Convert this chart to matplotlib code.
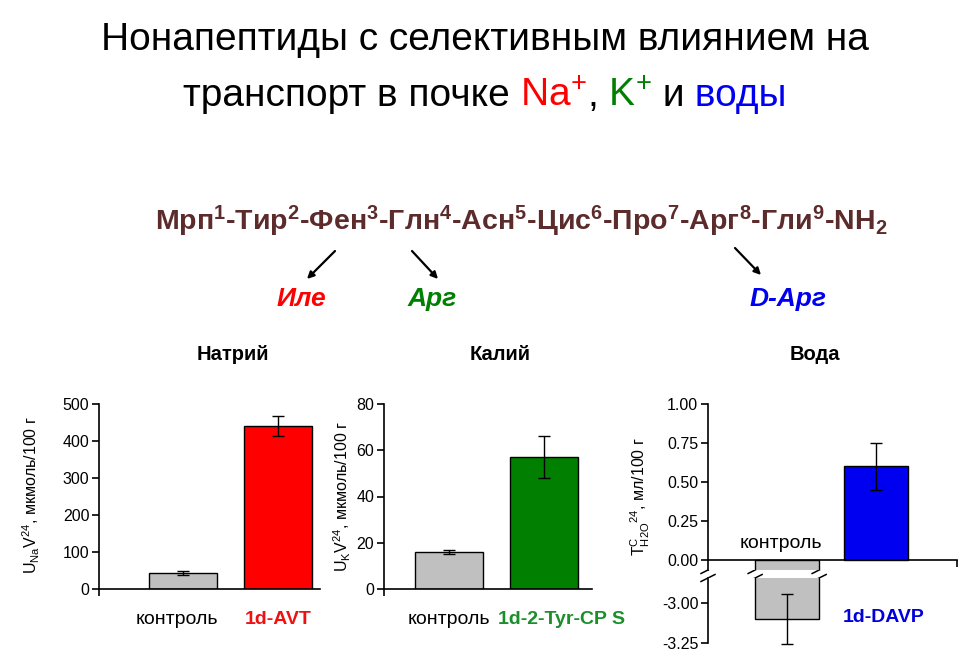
import matplotlib
matplotlib.use("Agg")
import matplotlib.pyplot as plt
from matplotlib.lines import Line2D
import numpy as np

plt.rcParams['font.family'] = ['Liberation Sans', 'DejaVu Sans']
plt.rcParams['mathtext.fontset'] = 'custom'
plt.rcParams['mathtext.rm'] = 'Liberation Sans'
plt.rcParams['mathtext.it'] = 'Liberation Sans:italic'
plt.rcParams['mathtext.bf'] = 'Liberation Sans:bold'

# ---- data ----
na_labels = ['контроль', '1d-AVT']
na_mean = [44, 440]
na_err = [5, 27]
na_ticks = [0, 100, 200, 300, 400, 500]

k_labels = ['контроль', '1d-2-Tyr-CP S']
k_mean = [16, 57]
k_err = [1, 9]
k_ticks = [0, 20, 40, 60, 80]

w_labels = ['контроль', '1d-DAVP']
w_mean = [-3.10, 0.60]
w_err = [0.155, 0.15]
w_ticks_top = [0.0, 0.25, 0.5, 0.75, 1.0]
w_ticks_low = [-3.25, -3.0]

residues = ['Мрп', 'Тир', 'Фен', 'Глн', 'Асн', 'Цис', 'Про', 'Арг', 'Гли']
substitutions = ['Иле', 'Арг', 'D-Арг']

GRAY = '#c0c0c0'
RED = '#ff0000'
GREEN = '#007f00'
BLUE = '#0000f0'
BROWN = '#5c2b2b'

W, H = 970, 661
fig = plt.figure(figsize=(W / 100, H / 100), dpi=100)


def box(x0, y0, x1, y1):
    # pixel box, origin top-left
    return [x0 / W, 1 - y1 / H, (x1 - x0) / W, (y1 - y0) / H]


# background axes in pixel coordinates for free text
bg = fig.add_axes([0, 0, 1, 1], zorder=-1)
bg.set_xlim(0, W)
bg.set_ylim(H, 0)
bg.axis('off')

# heading
bg.text(W / 2, 40, 'Нонапептиды с селективным влиянием на', fontsize=28,
        ha='center', va='center')
pieces = [('транспорт в почке', 'black'), (' Na$^{+}$', RED), (',', 'black'),
          (' K$^{+}$', GREEN), (' и', 'black'), (' воды', BLUE)]
renderer = fig.canvas.get_renderer()
texts = []
for s, c in pieces:
    texts.append(bg.text(0, 96, s, fontsize=28, color=c, ha='left', va='center'))
widths = [t.get_window_extent(renderer).width for t in texts]
x = W / 2 - sum(widths) / 2
for t, w in zip(texts, widths):
    t.set_x(x)
    x += w

# peptide sequence
seq = '-'.join(r'%s$^{\mathbf{%d}}$' % (r, i + 1) for i, r in enumerate(residues))
seq += r'-NH$_{\mathbf{2}}$'
bg.text(521, 221, seq, fontsize=20.5, fontweight='bold', color=BROWN,
        ha='center', va='center')

# arrows and substitutions
arrows = [((335, 251), (307, 279)), ((412, 251), (438, 279)), ((735, 248), (761, 275))]
for (x0, y0), (x1, y1) in arrows:
    bg.annotate('', xy=(x1, y1), xytext=(x0, y0),
                arrowprops=dict(arrowstyle='-|>', lw=1.6, color='black',
                                mutation_scale=10, shrinkA=0, shrinkB=0))
for s, c, xc in zip(substitutions, [RED, GREEN, BLUE], [301, 432, 788]):
    bg.text(xc, 299, s, fontsize=19, fontweight='bold', style='italic',
            color=c, ha='center', va='center')

# panel titles
for s, xc in zip(['Натрий', 'Калий', 'Вода'], [233, 500, 815]):
    bg.text(xc, 355, s, fontsize=14.5, fontweight='bold', ha='center', va='center')


def style_axis(ax, yticks, fmt='%g'):
    ax.spines[['top', 'right']].set_visible(False)
    ax.spines['left'].set_linewidth(1.2)
    ax.spines['bottom'].set_linewidth(1.2)
    ax.set_yticks(yticks)
    ax.set_yticklabels([fmt % v for v in yticks])
    ax.tick_params(axis='y', direction='out', length=5, width=1.2, labelsize=11.5, pad=2)
    ax.tick_params(axis='x', direction='out', length=5, width=1.2, labelbottom=False)


def bar_panel(rect, means, errs, colors, labels, label_colors, label_dx, xlim, ylim, yticks):
    ax = fig.add_axes(rect)
    xs = np.arange(1, len(means) + 1)
    ax.bar(xs, means, width=0.72, color=colors, edgecolor='black', linewidth=1, zorder=2)
    ax.errorbar(xs, means, yerr=errs, fmt='none', ecolor='black', elinewidth=1,
                capsize=4, capthick=1, zorder=3, clip_on=False)
    ax.set_xlim(xlim)
    ax.set_ylim(ylim)
    style_axis(ax, yticks)
    ax.set_xticks([xlim[0]])
    for xi, lab, c, dx in zip(xs, labels, label_colors, label_dx):
        bold = 'normal' if c == 'black' else 'bold'
        ax.annotate(lab, xy=(xi, 0), xycoords=('data', 'axes fraction'),
                    xytext=(dx, -30), textcoords='offset pixels', ha='center',
                    va='center', fontsize=14, color=c, fontweight=bold)
    return ax


bar_panel(box(99, 404, 320, 589), na_mean, na_err, [GRAY, RED], na_labels,
          ['black', '#ee1111'], [-6, 0], (0.12, 2.44), (0, 500), na_ticks)
bg.text(31, 495, r'U$_{\mathregular{Na}}$V$^{\mathregular{24}}$, мкмоль/100 г',
        fontsize=11.5, rotation=90, ha='center', va='center')

bar_panel(box(384, 404, 592, 589), k_mean, k_err, [GRAY, GREEN], k_labels,
          ['black', '#1a8f2a'], [0, 18], (0.31, 2.51), (0, 80), k_ticks)
bg.text(342, 497, r'U$_{\mathregular{K}}$V$^{\mathregular{24}}$, мкмоль/100 г',
        fontsize=11.5, rotation=90, ha='center', va='center')

# water panel with broken axis
xs = np.arange(1, len(w_mean) + 1)
wlim = (0.11, 2.91)
top = fig.add_axes(box(708, 404, 957, 570))
low = fig.add_axes(box(708, 578, 957, 643.3))
for ax in (top, low):
    ax.bar(xs, w_mean, width=0.72, color=[GRAY, BLUE], edgecolor='black',
           linewidth=1, zorder=2)
    ax.set_xlim(wlim)
top.errorbar(xs[1:], w_mean[1:], yerr=w_err[1:], fmt='none', ecolor='black',
             elinewidth=1, capsize=4, capthick=1, zorder=3)
low.errorbar(xs[:1], w_mean[:1], yerr=w_err[:1], fmt='none', ecolor='black',
             elinewidth=1, capsize=4, capthick=1, zorder=3, clip_on=False)
top.set_ylim(-0.064, 1.0)
low.set_ylim(-3.25, -2.848)
style_axis(top, w_ticks_top, '%.2f')
style_axis(low, w_ticks_low, '%.2f')
top.spines['bottom'].set_position(('data', 0))
top.set_xticks([wlim[1]])
low.spines['bottom'].set_visible(False)
low.set_xticks([])
top.annotate(w_labels[0], xy=(xs[0], 0), xytext=(-6, 17), textcoords='offset pixels',
             ha='center', va='center', fontsize=14)
low.annotate(w_labels[1], xy=(xs[1], 0.4), xycoords=('data', 'axes fraction'),
             xytext=(8, 0), textcoords='offset pixels', ha='center', va='center',
             fontsize=14, fontweight='bold', color='#0000dd')
bg.text(640, 497,
        r'T$^{\mathregular{C}}_{\mathregular{H2O}}$$^{\mathregular{24}}$, мл/100 г',
        fontsize=11.5, rotation=90, ha='center', va='center')

# break marks on the axis and on the bar edges
inv = bg.transData.inverted()
edge_px = [708]
for e in (xs[0] - 0.36, xs[0] + 0.36):
    edge_px.append(inv.transform(top.transData.transform((e, 0)))[0])
for xe in edge_px:
    for yb in (570, 578):
        bg.add_line(Line2D([xe - 7, xe + 7], [yb + 3.5, yb - 3.5], color='black', lw=1.1))

fig.savefig('out.png', dpi=100)
